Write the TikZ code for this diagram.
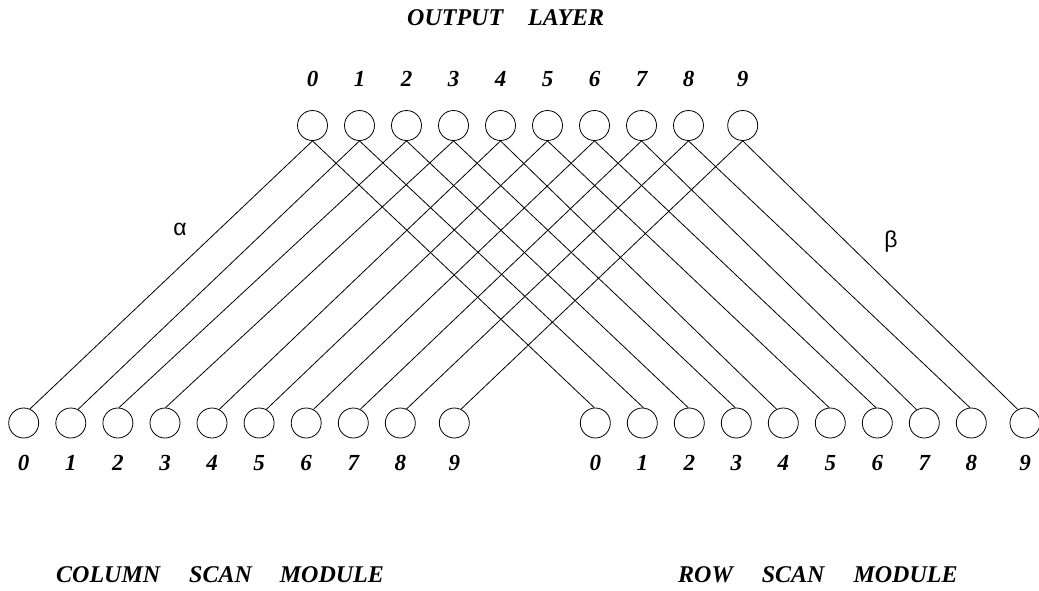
\documentclass[tikz,border=0pt]{standalone}
\usepackage{fontspec}
\setmainfont{Liberation Serif}
\newfontfamily\greekfont{Liberation Sans}
\begin{document}
\begin{tikzpicture}[x=1pt,y=-1pt,
  neuron/.style={circle,draw,line width=0.8pt,minimum size=30pt,inner sep=0pt},
  num/.style={font=\fontsize{23}{23}\selectfont\bfseries\itshape,inner sep=0pt,anchor=base},
  heading/.style={font=\fontsize{24}{24}\selectfont\bfseries\itshape,inner sep=0pt,anchor=base west},
  link/.style={line width=0.8pt},
  greek/.style={font=\greekfont\fontsize{23}{23}\selectfont,inner sep=0pt,anchor=base}]
\useasboundingbox (0,0) rectangle (1039,590);
% output layer
\foreach \i/\x in {0/312.5,1/359.5,2/406.5,3/453.5,4/500.5,5/547.5,6/594.5,7/641.5,8/688.5,9/742.7}{
  \node[neuron] (t\i) at (\x,125.5) {};
  \node[num] (tn\i) at (\x,86) {\i};
}
% column scan module
\foreach \i/\x in {0/23.7,1/70.8,2/117.9,3/165,4/212,5/259.1,6/306.2,7/353.3,8/400.3,9/454.3}{
  \node[neuron] (l\i) at (\x,423) {};
  \node[num] (ln\i) at (\x,470) {\i};
}
% row scan module
\foreach \i/\x in {0/595.3,1/642.3,2/689.3,3/736.3,4/783.3,5/830.3,6/877.3,7/924.3,8/971.3,9/1025}{
  \node[neuron] (r\i) at (\x,423) {};
  \node[num] (rn\i) at (\x,470) {\i};
}
% connections
\foreach \i/\la/\ra in {0/66/94,1/62/86,2/86/94,3/88/94,4/62/116,5/62/94,6/62/95,7/63/120,8/66/95,9/64/118}{
  \draw[link] (t\i.south) -- (l\i.\la);
  \draw[link] (t\i.south) -- (r\i.\ra);
}
% titles
\node[heading] (outtitle) at (407,25) {OUTPUT\hspace{25pt}LAYER};
\node[heading] (coltitle) at (56,582) {COLUMN\hspace{29pt}SCAN\hspace{28pt}MODULE};
\node[heading] (rowtitle) at (678,582) {ROW\hspace{29pt}SCAN\hspace{29pt}MODULE};
% weights
\node[greek] (alpha) at (180,235) {α};
\node[greek] (beta) at (891,247) {β};
\end{tikzpicture}
\end{document}
